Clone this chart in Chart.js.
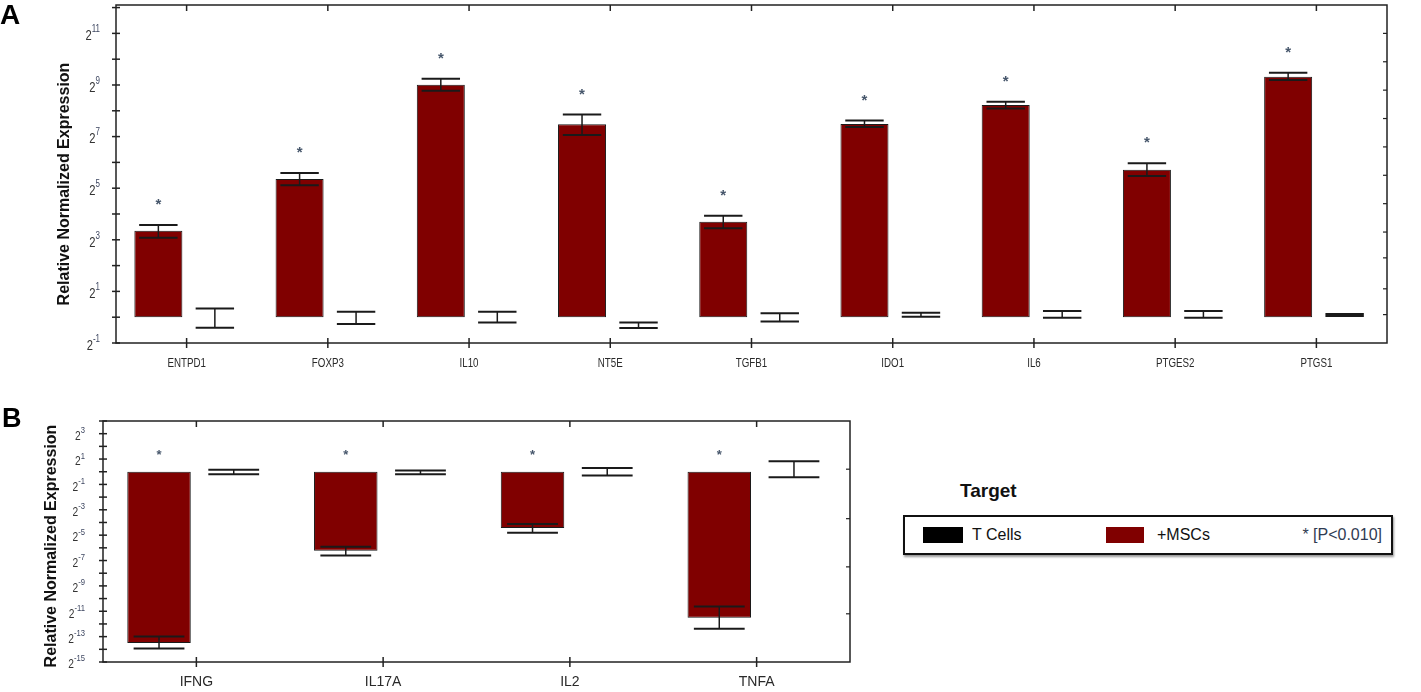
<!DOCTYPE html>
<html>
<head>
<meta charset="utf-8">
<script src="https://cdn.jsdelivr.net/npm/chart.js@4.4.1/dist/chart.umd.min.js"></script>
<style>
  html, body { margin: 0; padding: 0; background: #fff; }
  body { width: 1421px; height: 692px; position: relative; overflow: hidden; font-family: 'Liberation Sans', Arial, sans-serif; }
  canvas { position: absolute; left: 0; }
  #chartA { top: 0; }
  #chartB { top: 380px; }
  .panel { position: absolute; font-weight: bold; line-height: 1; color: #000; }
  #legendTitle { position: absolute; left: 960px; top: 481px; font-size: 19px; font-weight: bold; line-height: 1; color: #111; }
  #legendBox { position: absolute; left: 903px; top: 515px; width: 490px; height: 40px; box-sizing: border-box;
    border: 2px solid #111; box-shadow: 1px 2px 2px #999; }
  #legendBox .sw { position: absolute; top: 10px; width: 40px; height: 16px; }
  #legendBox .lt { position: absolute; top: 0; line-height: 36px; font-size: 16px; color: #111; }
</style>
</head>
<body>
<canvas id="chartA" width="1421" height="380"></canvas>
<canvas id="chartB" width="870" height="312"></canvas>
<div class="panel" style="left:0;top:1px;font-size:28px">A</div>
<div class="panel" style="left:2px;top:405px;font-size:27px">B</div>
<div id="legendTitle">Target</div>
<div id="legendBox">
  <span class="sw" style="left:18px;background:#000"></span>
  <span class="lt" style="left:67px">T Cells</span>
  <span class="sw" style="left:201px;width:38px;background:#800000"></span>
  <span class="lt" style="left:252px">+MSCs</span>
  <span class="lt" style="right:9px;color:#2f3b52">* [P&lt;0.010]</span>
</div>
<script>
// values are log2 of relative normalized expression (axis shows 2^n)
const genesA = ['ENTPD1', 'FOXP3', 'IL10', 'NT5E', 'TGFB1', 'IDO1', 'IL6', 'PTGES2', 'PTGS1'];
const mscA = [3.35, 5.36, 9.01, 7.48, 3.70, 7.49, 8.22, 5.71, 9.32];
const mscLowA = [3.08, 5.11, 8.78, 7.06, 3.45, 7.37, 8.09, 5.47, 9.19];
const mscHighA = [3.57, 5.59, 9.24, 7.86, 3.93, 7.62, 8.35, 5.97, 9.47];
const tcellA = [0, 0, 0, 0, 0, 0, 0, 0, 0];
const tcellLowA = [-0.41, -0.26, -0.21, -0.42, -0.17, 0.02, -0.02, -0.02, 0.05];
const tcellHighA = [0.34, 0.21, 0.21, -0.21, 0.15, 0.17, 0.24, 0.24, 0.12];
const sigA = [true, true, true, true, true, true, true, true, true];
const yTicksA = [-1, 1, 3, 5, 7, 9, 11];
const rightTicksA = [0.1, 1.1, 2.3, 3.3, 4.4, 5.5, 6.6, 7.7, 8.8, 9.9, 11.0];

const genesB = ['IFNG', 'IL17A', 'IL2', 'TNFA'];
const mscB = [-13.51, -6.23, -4.44, -11.51];
const mscLowB = [-13.93, -6.60, -4.81, -12.38];
const mscHighB = [-12.99, -5.91, -4.13, -10.62];
const tcellB = [0, 0, 0, 0];
const tcellLowB = [-0.19, -0.19, -0.29, -0.44];
const tcellHighB = [0.16, 0.10, 0.29, 0.82];
const sigB = [true, true, true, true];
const yTicksB = [3, 1, -1, -3, -5, -7, -9, -11, -13, -15];
const rightTicksB = [0.2, -3.7, -7.5, -11.2];

const FONT = "'Liberation Sans', Arial, sans-serif";
const INK = '#1a1a1a';

function txt(ctx, s, x, y, font, color, align, sx) {
  ctx.save();
  ctx.font = font;
  ctx.fillStyle = color;
  ctx.textAlign = align;
  ctx.textBaseline = 'middle';
  ctx.translate(x, y);
  ctx.scale(sx, 1);
  ctx.fillText(s, 0, 0);
  ctx.restore();
}

// "2" with a raised exponent, right aligned at xr
function pow2(ctx, exp, xr, y, o) {
  const sup = String(exp);
  ctx.font = o.baseSize + 'px ' + FONT;
  const w2 = ctx.measureText('2').width * o.sx;
  ctx.font = o.supSize + 'px ' + FONT;
  const ws = ctx.measureText(sup).width * o.sx;
  const x0 = xr - w2 - ws;
  txt(ctx, '2', x0, y + o.baseShift, o.baseSize + 'px ' + FONT, '#333', 'left', o.sx);
  txt(ctx, sup, x0 + w2, y - o.supShift, o.supSize + 'px ' + FONT, '#3d4660', 'left', o.sx);
}

function line(ctx, x1, y1, x2, y2) {
  ctx.beginPath();
  ctx.moveTo(x1, y1);
  ctx.lineTo(x2, y2);
  ctx.stroke();
}

function decor(o) {
  return {
    id: 'decor',
    afterDatasetsDraw(chart) {
      const ctx = chart.ctx, ys = chart.scales.y;
      ctx.save();
      ctx.strokeStyle = INK;
      o.errors.forEach((pair, di) => {
        chart.getDatasetMeta(di).data.forEach((bar, j) => {
          const lo = ys.getPixelForValue(pair[0][j]);
          const hi = ys.getPixelForValue(pair[1][j]);
          const half = bar.width * 0.4;
          ctx.lineWidth = 1.5;
          line(ctx, bar.x, lo, bar.x, hi);
          ctx.lineWidth = 2;
          line(ctx, bar.x - half, lo, bar.x + half, lo);
          line(ctx, bar.x - half, hi, bar.x + half, hi);
        });
      });
      const bars = chart.getDatasetMeta(0).data;
      o.sig.forEach((s, j) => {
        if (!s) return;
        const top = Math.max(o.errors[0][1][j], o.values[j], 0);
        const py = ys.getPixelForValue(top) - o.starGap;
        txt(ctx, '*', bars[j].x, py, o.starFont, '#46566b', 'center', 1);
      });
      ctx.restore();
    },
    afterDraw(chart) {
      const ctx = chart.ctx, a = chart.chartArea;
      const xs = chart.scales.x, ys = chart.scales.y;
      ctx.save();
      ctx.strokeStyle = '#222';
      ctx.lineWidth = 1.5;
      ctx.strokeRect(a.left, a.top, a.right - a.left, a.bottom - a.top);
      for (let v = Math.ceil(ys.min); v <= Math.floor(ys.max); v++) {
        const py = ys.getPixelForValue(v);
        line(ctx, a.left - 4, py, a.left + 4, py);
      }
      ctx.lineWidth = 1.2;
      o.rightTicks.forEach(v => {
        const py = ys.getPixelForValue(v);
        line(ctx, a.right - 4, py, a.right, py);
      });
      chart.data.labels.forEach((g, i) => {
        const px = xs.getPixelForValue(i);
        ctx.lineWidth = 1.5;
        line(ctx, px, a.top, px, a.top + 6);
        line(ctx, px, a.bottom - 5, px, a.bottom + 5);
        txt(ctx, g, px, a.bottom + o.xLabelGap, o.xLabelFont, '#2a2a2a', 'center', o.xLabelSx);
      });
      o.yTicks.forEach(v => pow2(ctx, v, a.left - o.yLabelGap, ys.getPixelForValue(v), o.pow));
      ctx.save();
      ctx.translate(o.titleX, o.titleY);
      ctx.rotate(-Math.PI / 2);
      ctx.font = 'bold 16px ' + FONT;
      ctx.fillStyle = '#111';
      ctx.textAlign = 'center';
      ctx.textBaseline = 'middle';
      ctx.fillText('Relative Normalized Expression', 0, 0);
      ctx.restore();
      ctx.restore();
    }
  };
}

function build(id, labels, msc, tcell, yMin, yMax, pad, opts) {
  return new Chart(document.getElementById(id), {
    type: 'bar',
    data: {
      labels: labels,
      datasets: [
        { label: '+MSCs', data: msc, backgroundColor: '#800000', borderColor: INK, borderWidth: 1,
          borderSkipped: false, categoryPercentage: 0.8, barPercentage: 0.85 },
        { label: 'T Cells', data: tcell, backgroundColor: '#000', borderWidth: 0,
          categoryPercentage: 0.8, barPercentage: 0.85 }
      ]
    },
    options: {
      responsive: false,
      animation: false,
      layout: { padding: pad },
      scales: {
        x: { display: false },
        y: { display: false, min: yMin, max: yMax }
      },
      plugins: { legend: { display: false }, tooltip: { enabled: false } }
    },
    plugins: [decor(opts)]
  });
}

build('chartA', genesA, mscA, tcellA, -1, 12.1, { left: 116, top: 5, right: 34, bottom: 37 }, {
  errors: [[mscLowA, mscHighA], [tcellLowA, tcellHighA]],
  values: mscA, sig: sigA, starGap: 20, starFont: 'bold 15px ' + FONT,
  yTicks: yTicksA, rightTicks: rightTicksA, yLabelGap: 16,
  pow: { baseSize: 14, supSize: 10, sx: 0.8, baseShift: 3, supShift: 4 },
  xLabelFont: '13px ' + FONT, xLabelSx: 0.75, xLabelGap: 20,
  titleX: 65, titleY: 184
});

build('chartB', genesB, mscB, tcellB, -15, 4, { left: 103, top: 41, right: 20, bottom: 30 }, {
  errors: [[mscLowB, mscHighB], [tcellLowB, tcellHighB]],
  values: mscB, sig: sigB, starGap: 16, starFont: 'bold 13px ' + FONT,
  yTicks: yTicksB, rightTicks: rightTicksB, yLabelGap: 18,
  pow: { baseSize: 12, supSize: 9, sx: 0.85, baseShift: 3, supShift: 3 },
  xLabelFont: '14px ' + FONT, xLabelSx: 1, xLabelGap: 20,
  titleX: 52, titleY: 166
});
</script>
</body>
</html>
